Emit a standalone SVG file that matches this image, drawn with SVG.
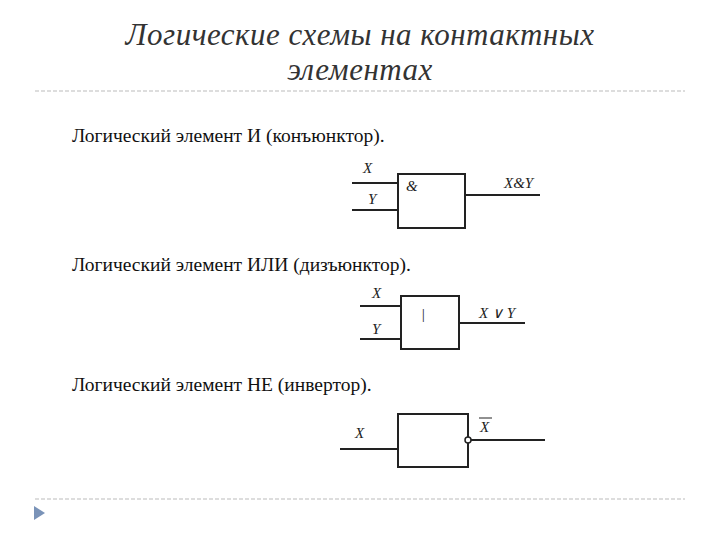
<svg xmlns="http://www.w3.org/2000/svg" width="720" height="540" viewBox="0 0 720 540">
<style>
.t{font-family:"Liberation Serif",serif;font-style:italic;font-size:31px;fill:#333;text-anchor:middle;letter-spacing:0.5px}
.h{font-family:"Liberation Serif",serif;font-size:19.5px;fill:#111}
.l{font-family:"Liberation Serif",serif;font-style:italic;font-size:15px;fill:#222}
.b{fill:#fff;stroke:#222;stroke-width:2}
.w{stroke:#222;stroke-width:1.8;fill:none}
.d{stroke:#bbb;stroke-width:1;stroke-dasharray:4 2}
</style>
<rect width="720" height="540" fill="#fff"/>
<text class="t" x="360" y="45">Логические схемы на контактных</text>
<text class="t" x="360" y="80">элементах</text>
<line class="d" x1="35" y1="91" x2="685" y2="91"/>
<line class="d" x1="35" y1="499" x2="685" y2="499"/>
<polygon points="34,506 45,513 34,520" fill="#7a93b8"/>
<text class="h" x="72" y="142">Логический элемент И (конъюнктор).</text>
<text class="h" x="72" y="271">Логический элемент ИЛИ (дизъюнктор).</text>
<text class="h" x="72" y="391">Логический элемент НЕ (инвертор).</text>
<g id="and"><rect class="b" x="398" y="174" width="67" height="54"/><text class="l" x="406" y="191" font-size="11">&amp;</text>
<text class="l" x="363" y="173">X</text><text class="l" x="368" y="204">Y</text><text class="l" x="504" y="188">X&amp;Y</text></g>
<g id="or"><rect class="b" x="401" y="296" width="58" height="53"/><text class="l" x="421" y="319" font-size="11" font-style="normal">|</text>
<text class="l" x="372" y="298">X</text><text class="l" x="372" y="334">Y</text><text class="l" x="479" y="318">X ∨ Y</text></g>
<g id="not"><rect class="b" x="398" y="414" width="70" height="53"/>
<text class="l" x="355" y="438">X</text><text class="l" x="480" y="432">X</text><line x1="479" y1="418" x2="492" y2="418" stroke="#222" stroke-width="1"/></g>
<g id="connectors">
<path class="w" d="M352 183H398M352 210H398M465 195H540"/>
<path class="w" d="M360 306H401M360 339H401M459 323H525"/>
<path class="w" d="M340 449H398M471 440H545"/>
<circle cx="468" cy="440" r="3" fill="#fff" stroke="#222" stroke-width="1.5"/>
</g>
</svg>
